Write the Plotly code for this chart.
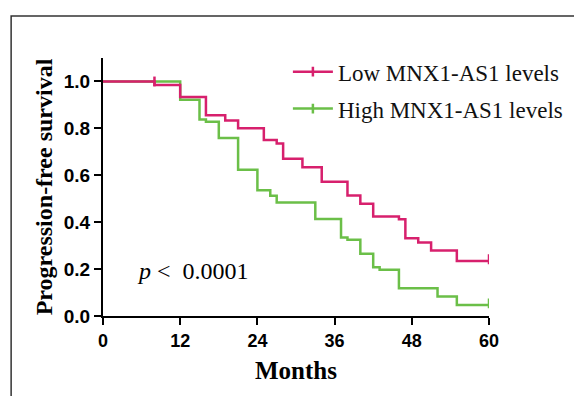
import plotly.graph_objects as go

# ---- data ----
low_times = [0, 8, 12, 16, 19, 21, 25, 27, 28, 31, 34, 38, 40, 42, 46, 47, 49, 51, 55, 60]
low_surv = [1.0, 0.985, 0.934, 0.856, 0.833, 0.80, 0.75, 0.735, 0.67, 0.634, 0.572,
            0.514, 0.479, 0.424, 0.413, 0.332, 0.313, 0.279, 0.235, 0.235]
high_times = [0, 12, 15, 16, 18, 21, 24, 26, 27, 33, 37, 38, 40, 42, 43, 46, 52, 55, 60]
high_surv = [1.0, 0.922, 0.838, 0.828, 0.759, 0.624, 0.536, 0.513, 0.484, 0.414, 0.335,
             0.325, 0.265, 0.208, 0.197, 0.118, 0.083, 0.047, 0.047]
low_censor_t = [8, 60]
low_censor_s = [1.0, 0.242]
high_censor_t = [60]
high_censor_s = [0.054]
x_ticks = [0, 12, 24, 36, 48, 60]
y_ticks = [0.0, 0.2, 0.4, 0.6, 0.8, 1.0]
y_ticklabels = ["0.0", "0.2", "0.4", "0.6", "0.8", "1.0"]
series_names = ["Low MNX1-AS1 levels", "High MNX1-AS1 levels"]
p_text = "<i>p</i> <  0.0001"

RED = "#D7206D"
GREEN = "#6BBF48"

fig = go.Figure()
for t, s, ct, cs, col in [
    (high_times, high_surv, high_censor_t, high_censor_s, GREEN),
    (low_times, low_surv, low_censor_t, low_censor_s, RED),
]:
    fig.add_trace(go.Scatter(x=t, y=s, mode="lines", line=dict(color=col, width=2.5, shape="hv"),
                             showlegend=False, hoverinfo="skip"))
    fig.add_trace(go.Scatter(x=ct, y=cs, mode="markers",
                             marker=dict(symbol="line-ns-open", size=7, color=col,
                                         line=dict(color=col, width=2.5)),
                             showlegend=False, hoverinfo="skip"))

# legend entries
for col, nm, grp, rank in [(RED, series_names[0], "a", 1), (GREEN, series_names[1], "b", 2)]:
    fig.add_trace(go.Scatter(x=[None], y=[None], mode="lines+markers", name=nm,
                             legendgroup=grp, legendrank=rank,
                             line=dict(color=col, width=2.5),
                             marker=dict(symbol="line-ns-open", size=7, color=col,
                                         line=dict(color=col, width=2.5))))

fig.add_annotation(x=5, y=0.19, xref="x", yref="y", text=p_text, showarrow=False,
                   xanchor="left", yanchor="middle",
                   font=dict(family="Liberation Serif", size=24, color="black"))

# outer frame
fig.add_shape(type="rect", xref="paper", yref="paper", x0=-0.238, x1=1.4, y0=-0.5, y1=1.163,
              line=dict(color="#333333", width=1.5), layer="below")

fig.update_layout(
    width=582, height=396,
    margin=dict(l=95, r=101, t=50, b=88, autoexpand=False),
    paper_bgcolor="white", plot_bgcolor="white",
    legend=dict(x=0.479, y=1.03, xanchor="left", yanchor="top", itemwidth=40,
                font=dict(family="Liberation Serif", size=23, color="#111111"),
                tracegroupgap=4, bgcolor="rgba(0,0,0,0)"),
    xaxis=dict(range=[0, 60], tickvals=x_ticks, ticks="outside", ticklen=7, tickwidth=2,
               tickcolor="black", showline=True, linewidth=2, linecolor="black",
               showgrid=False, zeroline=False, automargin=False,
               tickfont=dict(family="Liberation Sans", size=18, color="black", weight="bold"),
               title=dict(text="Months", standoff=12,
                          font=dict(family="Liberation Serif", size=25, color="black", weight="bold"))),
    yaxis=dict(range=[0, 1.1], tickvals=y_ticks, ticktext=y_ticklabels, ticks="outside", ticklen=7,
               tickwidth=2, tickcolor="black", showline=True, linewidth=2, linecolor="black",
               showgrid=False, zeroline=False, automargin=False,
               tickfont=dict(family="Liberation Sans", size=19, color="black", weight="bold"),
               title=dict(text="Progression-free survival", standoff=4,
                          font=dict(family="Liberation Serif", size=24, color="black", weight="bold"))),
)

fig.write_html("out.html")
